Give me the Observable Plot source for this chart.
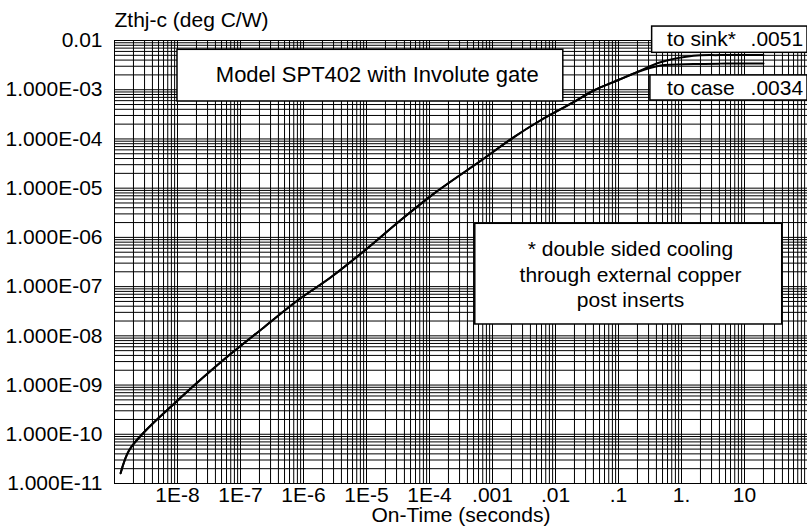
<!DOCTYPE html>
<html>
<head>
<meta charset="utf-8">
<script src="https://cdn.jsdelivr.net/npm/d3@7"></script>
<script src="https://cdn.jsdelivr.net/npm/@observablehq/plot@0.6"></script>
<style>
  html, body { margin: 0; padding: 0; background: #fff; }
  #chart svg { display: block; }
</style>
</head>
<body>
<div id="chart"></div>
<script>
// ---- data ----
const time = [1.25e-9, 1.7e-9, 3.13e-9, 8.81e-9, 1.83e-8, 7.02e-8, 2.37e-7, 8.02e-7, 2.72e-6, 9.35e-6, 3.43e-5, 1.16e-4, 7.23e-4, 2.16e-3, 5.74e-3, 1.94e-2, 4.04e-2, 9.51e-2, 0.197];
const zth  = [1.62e-11, 4.68e-11, 1.19e-10, 4.16e-10, 9.79e-10, 4.31e-9, 1.5e-8, 5.22e-8, 1.55e-7, 5.41e-7, 2.2e-6, 7.67e-6, 3.95e-5, 1.08e-4, 2.37e-4, 5.57e-4, 9.64e-4, 1.54e-3, 2.27e-3];
const sinkTime = [0.463, 1.55, 4, 10, 20];
const sinkZth  = [3.62e-3, 4.9e-3, 5.05e-3, 5.1e-3, 5.1e-3];
const caseTime = [0.463, 1.55, 4, 10, 20];
const caseZth  = [3.1e-3, 3.32e-3, 3.39e-3, 3.4e-3, 3.4e-3];

const xTicks = [1e-8, 1e-7, 1e-6, 1e-5, 1e-4, 1e-3, 1e-2, 0.1, 1, 10];
const xTickLabels = ["1E-8", "1E-7", "1E-6", "1E-5", "1E-4", ".001", ".01", ".1", "1.", "10"];
const yTicks = [1e-2, 1e-3, 1e-4, 1e-5, 1e-6, 1e-7, 1e-8, 1e-9, 1e-10, 1e-11];
const yTickLabels = ["0.01", "1.000E-03", "1.000E-04", "1.000E-05", "1.000E-06", "1.000E-07", "1.000E-08", "1.000E-09", "1.000E-10", "1.000E-11"];

const yTitle = "Zthj-c (deg C/W)";
const xTitle = "On-Time (seconds)";
const modelNote = "Model SPT402 with Involute gate";
const coolingNote = "* double sided cooling\nthrough external copper\npost inserts";
const legendNames = ["to sink*", "to case"];
const legendValues = [".0051", ".0034"];

// annotation boxes (data coordinates)
const boxes = [
  {x1: 1e-8, x2: 1.33e-2, y1: 5.77e-4, y2: 6.47e-3},
  {x1: 5.33e-4, x2: 39.7, y1: 1.70e-8, y2: 1.89e-6},
  {x1: 0.342, x2: 100, y1: 5.62e-3, y2: 1.92e-2},
  {x1: 0.321, x2: 100, y1: 6.04e-4, y2: 1.95e-3}
];

// ---- derived structures ----
const rows = [];
const mainPart = time.map((t, i) => ({t, z: zth[i]}));
for (const p of mainPart) rows.push({...p, s: "sink"});
sinkTime.forEach((t, i) => rows.push({t, z: sinkZth[i], s: "sink"}));
for (const p of mainPart) rows.push({...p, s: "case"});
caseTime.forEach((t, i) => rows.push({t, z: caseZth[i], s: "case"}));

const xGrid = [];
for (let e = -9; e <= 1; e++) for (let m = 1; m <= 9; m++) xGrid.push(m * Math.pow(10, e));
xGrid.push(100);
const yGrid = [];
for (let e = -11; e <= -3; e++) for (let m = 1; m <= 9; m++) yGrid.push(m * Math.pow(10, e));
yGrid.push(0.01);

const xLabelOf = new Map(xTicks.map((t, i) => [t, xTickLabels[i]]));
const yLabelOf = new Map(yTicks.map((t, i) => [t, yTickLabels[i]]));

const font = "'Liberation Sans', Arial, Helvetica, sans-serif";
const fs = 21;

const chart = Plot.plot({
  width: 807,
  height: 527,
  marginLeft: 114,
  marginRight: 0,
  marginTop: 40,
  marginBottom: 44,
  style: {fontFamily: font, fontSize: fs + "px", color: "#000", background: "#fff"},
  x: {type: "log", domain: [1e-9, 100], axis: null},
  y: {type: "log", domain: [1e-11, 1e-2], axis: null},
  marks: [
    Plot.ruleX(xGrid, {stroke: "#000", strokeWidth: 1}),
    Plot.ruleY(yGrid, {stroke: "#000", strokeWidth: 1}),
    Plot.frame({stroke: "#000", strokeWidth: 1}),
    Plot.text(xTicks, {x: d => d, frameAnchor: "bottom", dy: 12, lineAnchor: "middle", text: d => xLabelOf.get(d), fontSize: fs}),
    Plot.text(yTicks, {y: d => d, frameAnchor: "left", dx: -12, textAnchor: "end", text: d => yLabelOf.get(d), fontSize: fs}),
    Plot.line(rows, {x: "t", y: "z", z: "s", stroke: "#000", strokeWidth: 2, curve: "catmull-rom"}),
    Plot.rect(boxes, {x1: "x1", x2: "x2", y1: "y1", y2: "y2", fill: "#fff", stroke: "#000", strokeWidth: 1.5}),
    Plot.text([modelNote], {x: 1.48e-5, y: 1.95e-3, text: d => d, textAnchor: "middle", fontSize: 22}),
    Plot.text([coolingNote], {x: 0.155, y: 1.85e-7, text: d => d, textAnchor: "middle", lineAnchor: "middle", lineHeight: 1.2, fontSize: fs}),
    Plot.text(legendNames, {x: [0.59, 0.59], y: [1.05e-2, 1.06e-3], text: d => d, textAnchor: "start", fontSize: fs}),
    Plot.text(legendValues, {x: [12.5, 12.5], y: [1.05e-2, 1.06e-3], text: d => d, textAnchor: "start", fontSize: fs}),
    Plot.text([yTitle], {frameAnchor: "top-left", dy: -20, lineAnchor: "middle", textAnchor: "start", text: d => d, fontSize: fs}),
    Plot.text([xTitle], {frameAnchor: "bottom", dy: 32, lineAnchor: "middle", textAnchor: "middle", text: d => d, fontSize: fs})
  ]
});
document.getElementById("chart").appendChild(chart);
</script>
</body>
</html>
